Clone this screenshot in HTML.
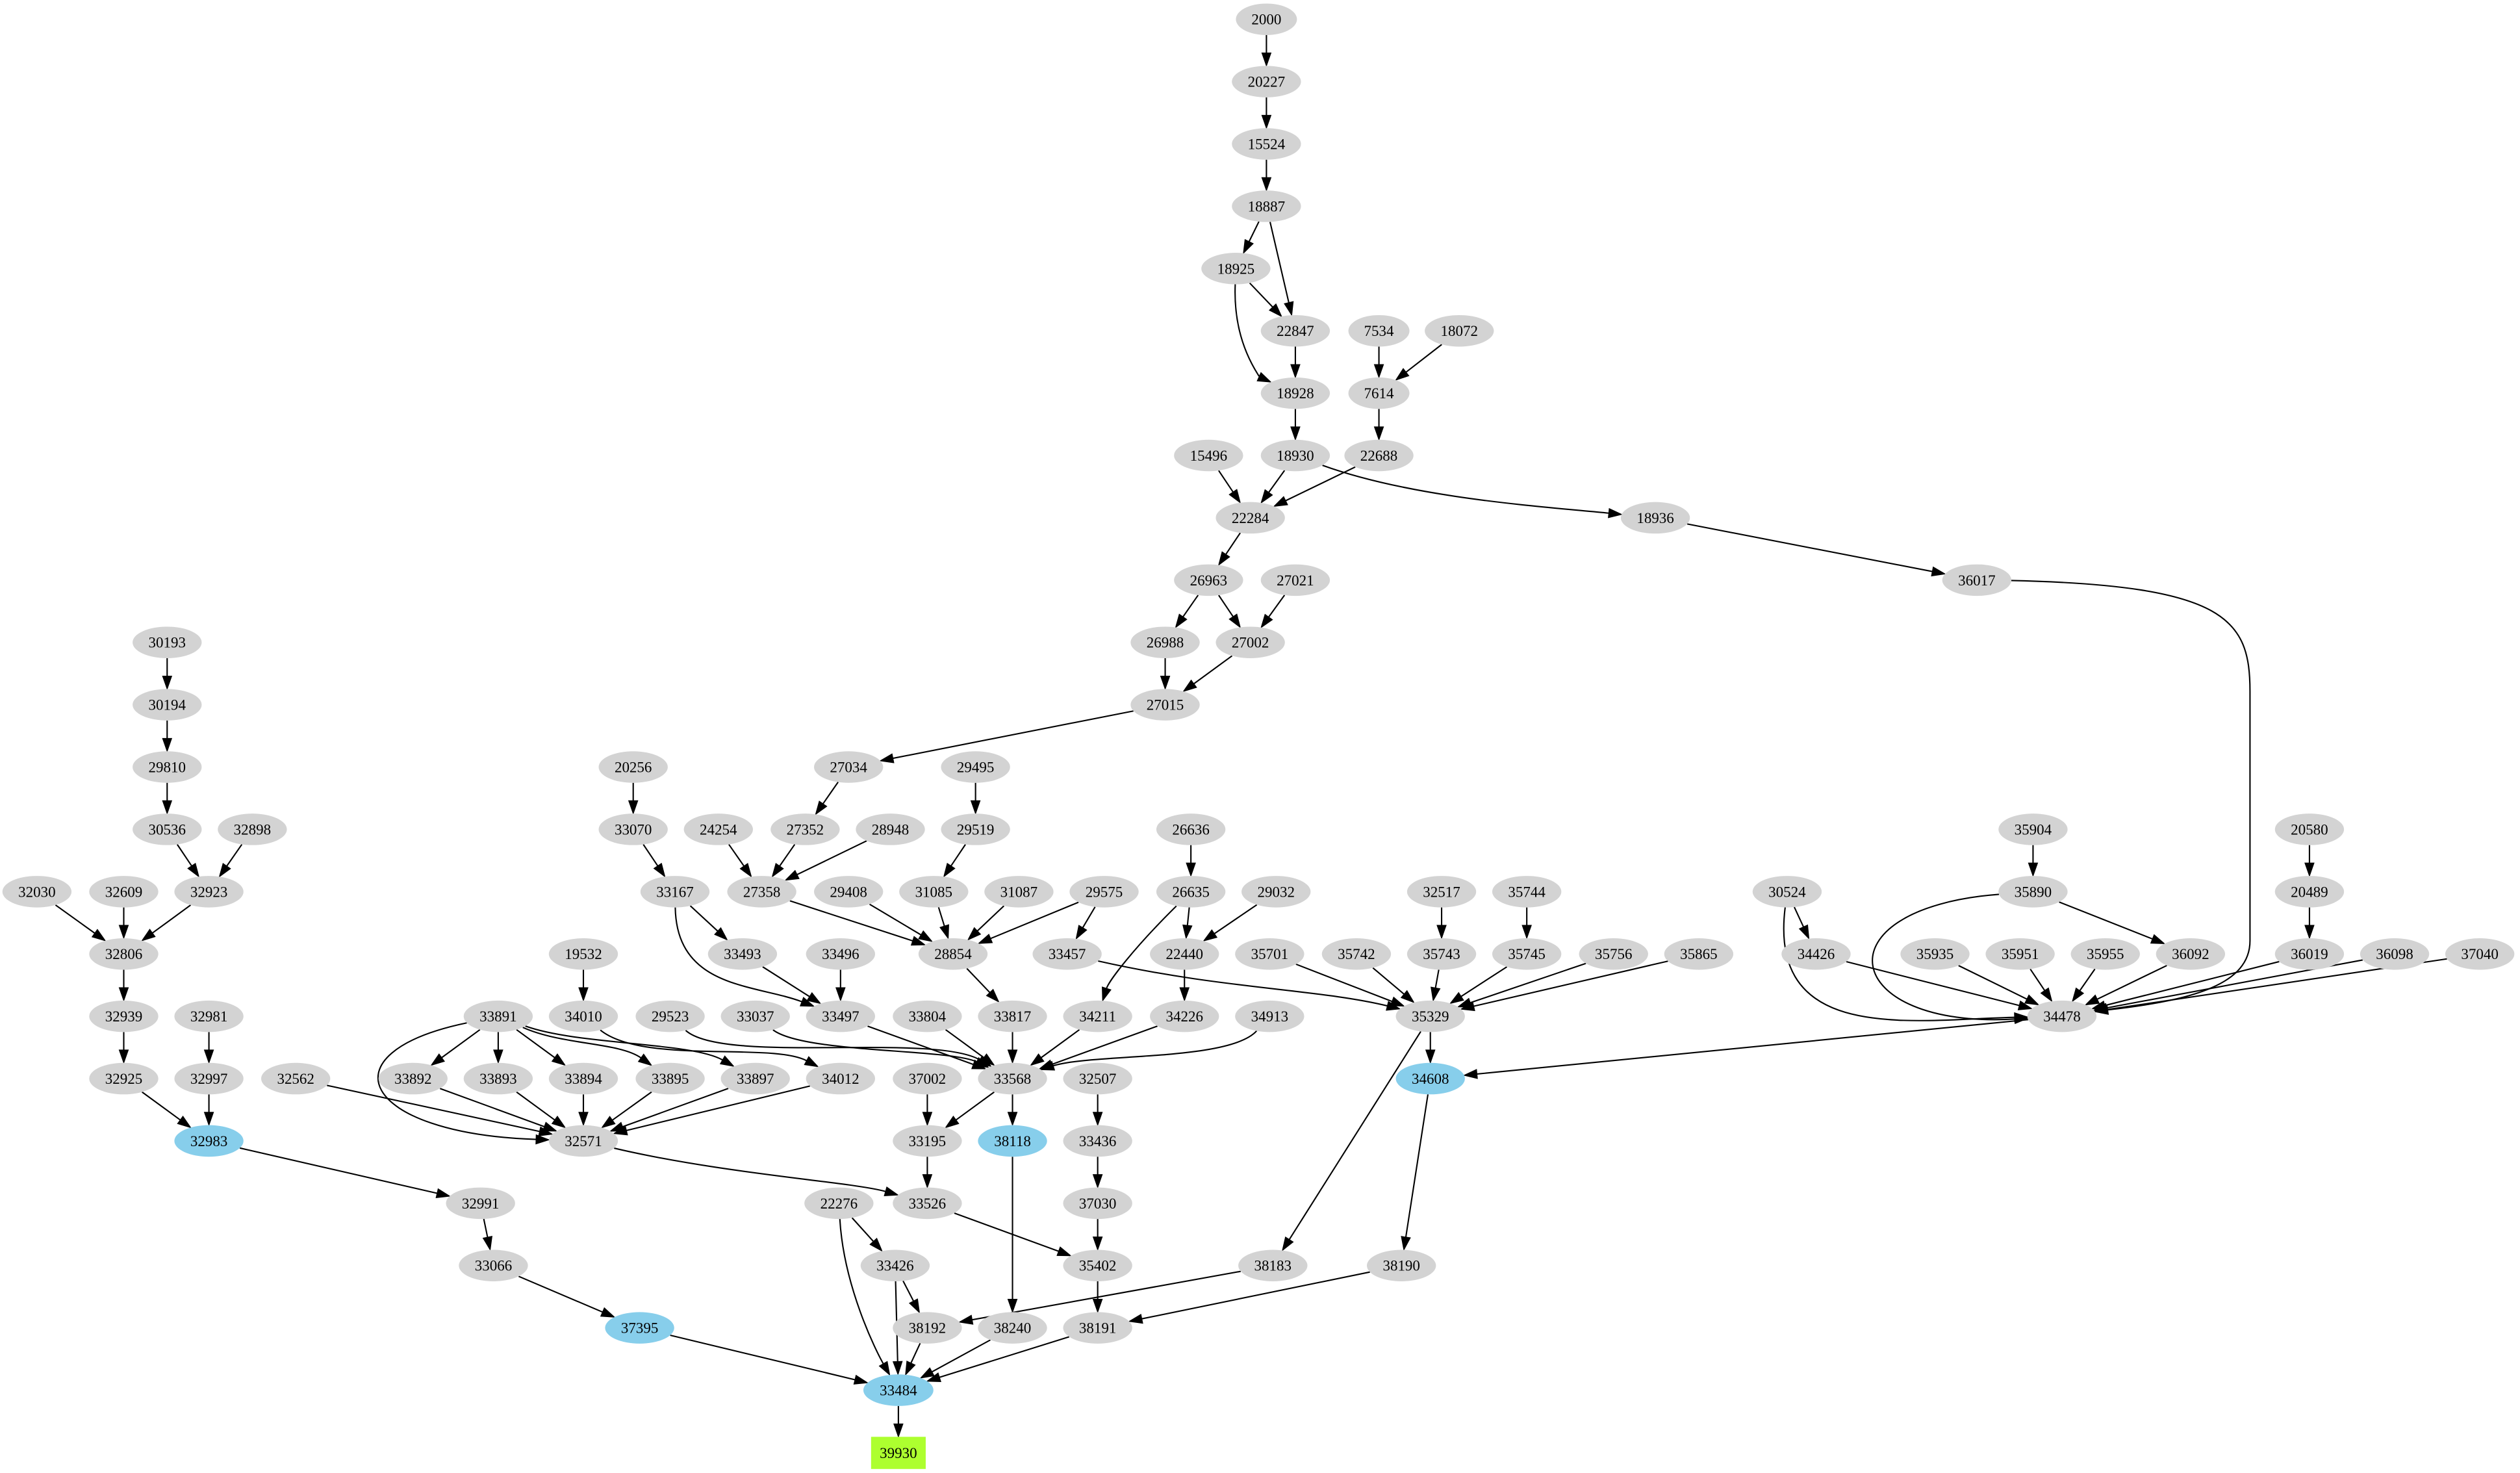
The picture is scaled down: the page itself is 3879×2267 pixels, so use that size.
<!DOCTYPE html>
<html><head><meta charset="utf-8"><style>
html,body{margin:0;padding:0;background:#fff;}
svg{display:block;}
text{font-family:"Liberation Serif",serif;font-size:9.3px;text-anchor:middle;dominant-baseline:central;fill:#000;}
.g ellipse{fill:#d3d3d3;}
.b ellipse{fill:#87ceeb;}
</style></head><body>
<svg id="s" width="3879" height="2267" viewBox="0 0 1568 916" preserveAspectRatio="none" xmlns="http://www.w3.org/2000/svg">
<g id="edges" stroke="#000" stroke-width="0.85" fill="none"></g>
<g id="arrows" fill="#000" stroke="#000" stroke-width="0.5"></g>
<g id="nodes">
<g class="g"><ellipse id="n2000" cx="788" cy="12" rx="19" ry="9.8"/><text x="788" y="12">2000</text></g>
<g class="g"><ellipse id="n20227" cx="788" cy="50.75" rx="21.5" ry="9.8"/><text x="788" y="50.75">20227</text></g>
<g class="g"><ellipse id="n15524" cx="788" cy="89.5" rx="21.5" ry="9.8"/><text x="788" y="89.5">15524</text></g>
<g class="g"><ellipse id="n18887" cx="788" cy="128.25" rx="21.5" ry="9.8"/><text x="788" y="128.25">18887</text></g>
<g class="g"><ellipse id="n18925" cx="769" cy="167" rx="21.5" ry="9.8"/><text x="769" y="167">18925</text></g>
<g class="g"><ellipse id="n22847" cx="806" cy="205.75" rx="21.5" ry="9.8"/><text x="806" y="205.75">22847</text></g>
<g class="g"><ellipse id="n7534" cx="858" cy="205.75" rx="19" ry="9.8"/><text x="858" y="205.75">7534</text></g>
<g class="g"><ellipse id="n18072" cx="908" cy="205.75" rx="21.5" ry="9.8"/><text x="908" y="205.75">18072</text></g>
<g class="g"><ellipse id="n18928" cx="806" cy="244.5" rx="21.5" ry="9.8"/><text x="806" y="244.5">18928</text></g>
<g class="g"><ellipse id="n7614" cx="858" cy="244.5" rx="19" ry="9.8"/><text x="858" y="244.5">7614</text></g>
<g class="g"><ellipse id="n15496" cx="752" cy="283.25" rx="21.5" ry="9.8"/><text x="752" y="283.25">15496</text></g>
<g class="g"><ellipse id="n18930" cx="806" cy="283.25" rx="21.5" ry="9.8"/><text x="806" y="283.25">18930</text></g>
<g class="g"><ellipse id="n22688" cx="858" cy="283.25" rx="21.5" ry="9.8"/><text x="858" y="283.25">22688</text></g>
<g class="g"><ellipse id="n22284" cx="778" cy="322" rx="21.5" ry="9.8"/><text x="778" y="322">22284</text></g>
<g class="g"><ellipse id="n18936" cx="1030" cy="322" rx="21.5" ry="9.8"/><text x="1030" y="322">18936</text></g>
<g class="g"><ellipse id="n26963" cx="752" cy="360.75" rx="21.5" ry="9.8"/><text x="752" y="360.75">26963</text></g>
<g class="g"><ellipse id="n27021" cx="806" cy="360.75" rx="21.5" ry="9.8"/><text x="806" y="360.75">27021</text></g>
<g class="g"><ellipse id="n36017" cx="1230" cy="360.75" rx="21.5" ry="9.8"/><text x="1230" y="360.75">36017</text></g>
<g class="g"><ellipse id="n26988" cx="725" cy="399.5" rx="21.5" ry="9.8"/><text x="725" y="399.5">26988</text></g>
<g class="g"><ellipse id="n27002" cx="778" cy="399.5" rx="21.5" ry="9.8"/><text x="778" y="399.5">27002</text></g>
<g class="g"><ellipse id="n30193" cx="104" cy="399.5" rx="21.5" ry="9.8"/><text x="104" y="399.5">30193</text></g>
<g class="g"><ellipse id="n27015" cx="725" cy="438.25" rx="21.5" ry="9.8"/><text x="725" y="438.25">27015</text></g>
<g class="g"><ellipse id="n30194" cx="104" cy="438.25" rx="21.5" ry="9.8"/><text x="104" y="438.25">30194</text></g>
<g class="g"><ellipse id="n29810" cx="104" cy="477" rx="21.5" ry="9.8"/><text x="104" y="477">29810</text></g>
<g class="g"><ellipse id="n20256" cx="394" cy="477" rx="21.5" ry="9.8"/><text x="394" y="477">20256</text></g>
<g class="g"><ellipse id="n27034" cx="528" cy="477" rx="21.5" ry="9.8"/><text x="528" y="477">27034</text></g>
<g class="g"><ellipse id="n29495" cx="607" cy="477" rx="21.5" ry="9.8"/><text x="607" y="477">29495</text></g>
<g class="g"><ellipse id="n30536" cx="104" cy="515.75" rx="21.5" ry="9.8"/><text x="104" y="515.75">30536</text></g>
<g class="g"><ellipse id="n32898" cx="157" cy="515.75" rx="21.5" ry="9.8"/><text x="157" y="515.75">32898</text></g>
<g class="g"><ellipse id="n33070" cx="394" cy="515.75" rx="21.5" ry="9.8"/><text x="394" y="515.75">33070</text></g>
<g class="g"><ellipse id="n24254" cx="447" cy="515.75" rx="21.5" ry="9.8"/><text x="447" y="515.75">24254</text></g>
<g class="g"><ellipse id="n27352" cx="501" cy="515.75" rx="21.5" ry="9.8"/><text x="501" y="515.75">27352</text></g>
<g class="g"><ellipse id="n28948" cx="554" cy="515.75" rx="21.5" ry="9.8"/><text x="554" y="515.75">28948</text></g>
<g class="g"><ellipse id="n29519" cx="607" cy="515.75" rx="21.5" ry="9.8"/><text x="607" y="515.75">29519</text></g>
<g class="g"><ellipse id="n26636" cx="741" cy="515.75" rx="21.5" ry="9.8"/><text x="741" y="515.75">26636</text></g>
<g class="g"><ellipse id="n35904" cx="1265" cy="515.75" rx="21.5" ry="9.8"/><text x="1265" y="515.75">35904</text></g>
<g class="g"><ellipse id="n20580" cx="1437" cy="515.75" rx="21.5" ry="9.8"/><text x="1437" y="515.75">20580</text></g>
<g class="g"><ellipse id="n32030" cx="23" cy="554.5" rx="21.5" ry="9.8"/><text x="23" y="554.5">32030</text></g>
<g class="g"><ellipse id="n32609" cx="77" cy="554.5" rx="21.5" ry="9.8"/><text x="77" y="554.5">32609</text></g>
<g class="g"><ellipse id="n32923" cx="130" cy="554.5" rx="21.5" ry="9.8"/><text x="130" y="554.5">32923</text></g>
<g class="g"><ellipse id="n33167" cx="420" cy="554.5" rx="21.5" ry="9.8"/><text x="420" y="554.5">33167</text></g>
<g class="g"><ellipse id="n27358" cx="474" cy="554.5" rx="21.5" ry="9.8"/><text x="474" y="554.5">27358</text></g>
<g class="g"><ellipse id="n29408" cx="528" cy="554.5" rx="21.5" ry="9.8"/><text x="528" y="554.5">29408</text></g>
<g class="g"><ellipse id="n31085" cx="581" cy="554.5" rx="21.5" ry="9.8"/><text x="581" y="554.5">31085</text></g>
<g class="g"><ellipse id="n31087" cx="634" cy="554.5" rx="21.5" ry="9.8"/><text x="634" y="554.5">31087</text></g>
<g class="g"><ellipse id="n29575" cx="687" cy="554.5" rx="21.5" ry="9.8"/><text x="687" y="554.5">29575</text></g>
<g class="g"><ellipse id="n26635" cx="741" cy="554.5" rx="21.5" ry="9.8"/><text x="741" y="554.5">26635</text></g>
<g class="g"><ellipse id="n29032" cx="794" cy="554.5" rx="21.5" ry="9.8"/><text x="794" y="554.5">29032</text></g>
<g class="g"><ellipse id="n32517" cx="897" cy="554.5" rx="21.5" ry="9.8"/><text x="897" y="554.5">32517</text></g>
<g class="g"><ellipse id="n35744" cx="950" cy="554.5" rx="21.5" ry="9.8"/><text x="950" y="554.5">35744</text></g>
<g class="g"><ellipse id="n30524" cx="1112" cy="554.5" rx="21.5" ry="9.8"/><text x="1112" y="554.5">30524</text></g>
<g class="g"><ellipse id="n35890" cx="1265" cy="554.5" rx="21.5" ry="9.8"/><text x="1265" y="554.5">35890</text></g>
<g class="g"><ellipse id="n20489" cx="1437" cy="554.5" rx="21.5" ry="9.8"/><text x="1437" y="554.5">20489</text></g>
<g class="g"><ellipse id="n32806" cx="77" cy="593.25" rx="21.5" ry="9.8"/><text x="77" y="593.25">32806</text></g>
<g class="g"><ellipse id="n19532" cx="363" cy="593.25" rx="21.5" ry="9.8"/><text x="363" y="593.25">19532</text></g>
<g class="g"><ellipse id="n33493" cx="462" cy="593.25" rx="21.5" ry="9.8"/><text x="462" y="593.25">33493</text></g>
<g class="g"><ellipse id="n33496" cx="523" cy="593.25" rx="21.5" ry="9.8"/><text x="523" y="593.25">33496</text></g>
<g class="g"><ellipse id="n28854" cx="593" cy="593.25" rx="21.5" ry="9.8"/><text x="593" y="593.25">28854</text></g>
<g class="g"><ellipse id="n33457" cx="664" cy="593.25" rx="21.5" ry="9.8"/><text x="664" y="593.25">33457</text></g>
<g class="g"><ellipse id="n22440" cx="737" cy="593.25" rx="21.5" ry="9.8"/><text x="737" y="593.25">22440</text></g>
<g class="g"><ellipse id="n35701" cx="790" cy="593.25" rx="21.5" ry="9.8"/><text x="790" y="593.25">35701</text></g>
<g class="g"><ellipse id="n35742" cx="844" cy="593.25" rx="21.5" ry="9.8"/><text x="844" y="593.25">35742</text></g>
<g class="g"><ellipse id="n35743" cx="897" cy="593.25" rx="21.5" ry="9.8"/><text x="897" y="593.25">35743</text></g>
<g class="g"><ellipse id="n35745" cx="950" cy="593.25" rx="21.5" ry="9.8"/><text x="950" y="593.25">35745</text></g>
<g class="g"><ellipse id="n35756" cx="1004" cy="593.25" rx="21.5" ry="9.8"/><text x="1004" y="593.25">35756</text></g>
<g class="g"><ellipse id="n35865" cx="1057" cy="593.25" rx="21.5" ry="9.8"/><text x="1057" y="593.25">35865</text></g>
<g class="g"><ellipse id="n34426" cx="1130" cy="593.25" rx="21.5" ry="9.8"/><text x="1130" y="593.25">34426</text></g>
<g class="g"><ellipse id="n35935" cx="1204" cy="593.25" rx="21.5" ry="9.8"/><text x="1204" y="593.25">35935</text></g>
<g class="g"><ellipse id="n35951" cx="1257" cy="593.25" rx="21.5" ry="9.8"/><text x="1257" y="593.25">35951</text></g>
<g class="g"><ellipse id="n35955" cx="1310" cy="593.25" rx="21.5" ry="9.8"/><text x="1310" y="593.25">35955</text></g>
<g class="g"><ellipse id="n36092" cx="1363" cy="593.25" rx="21.5" ry="9.8"/><text x="1363" y="593.25">36092</text></g>
<g class="g"><ellipse id="n36019" cx="1437" cy="593.25" rx="21.5" ry="9.8"/><text x="1437" y="593.25">36019</text></g>
<g class="g"><ellipse id="n36098" cx="1490" cy="593.25" rx="21.5" ry="9.8"/><text x="1490" y="593.25">36098</text></g>
<g class="g"><ellipse id="n37040" cx="1543" cy="593.25" rx="21.5" ry="9.8"/><text x="1543" y="593.25">37040</text></g>
<g class="g"><ellipse id="n32939" cx="77" cy="632" rx="21.5" ry="9.8"/><text x="77" y="632">32939</text></g>
<g class="g"><ellipse id="n32981" cx="130" cy="632" rx="21.5" ry="9.8"/><text x="130" y="632">32981</text></g>
<g class="g"><ellipse id="n33891" cx="310" cy="632" rx="21.5" ry="9.8"/><text x="310" y="632">33891</text></g>
<g class="g"><ellipse id="n34010" cx="363" cy="632" rx="21.5" ry="9.8"/><text x="363" y="632">34010</text></g>
<g class="g"><ellipse id="n29523" cx="417" cy="632" rx="21.5" ry="9.8"/><text x="417" y="632">29523</text></g>
<g class="g"><ellipse id="n33037" cx="470" cy="632" rx="21.5" ry="9.8"/><text x="470" y="632">33037</text></g>
<g class="g"><ellipse id="n33497" cx="523" cy="632" rx="21.5" ry="9.8"/><text x="523" y="632">33497</text></g>
<g class="g"><ellipse id="n33804" cx="577" cy="632" rx="21.5" ry="9.8"/><text x="577" y="632">33804</text></g>
<g class="g"><ellipse id="n33817" cx="630" cy="632" rx="21.5" ry="9.8"/><text x="630" y="632">33817</text></g>
<g class="g"><ellipse id="n34211" cx="683" cy="632" rx="21.5" ry="9.8"/><text x="683" y="632">34211</text></g>
<g class="g"><ellipse id="n34226" cx="737" cy="632" rx="21.5" ry="9.8"/><text x="737" y="632">34226</text></g>
<g class="g"><ellipse id="n34913" cx="790" cy="632" rx="21.5" ry="9.8"/><text x="790" y="632">34913</text></g>
<g class="g"><ellipse id="n35329" cx="890" cy="632" rx="21.5" ry="9.8"/><text x="890" y="632">35329</text></g>
<g class="g"><ellipse id="n34478" cx="1283" cy="632" rx="21.5" ry="9.8"/><text x="1283" y="632">34478</text></g>
<g class="g"><ellipse id="n32925" cx="77" cy="670.75" rx="21.5" ry="9.8"/><text x="77" y="670.75">32925</text></g>
<g class="g"><ellipse id="n32997" cx="130" cy="670.75" rx="21.5" ry="9.8"/><text x="130" y="670.75">32997</text></g>
<g class="g"><ellipse id="n32562" cx="184" cy="670.75" rx="21.5" ry="9.8"/><text x="184" y="670.75">32562</text></g>
<g class="g"><ellipse id="n33892" cx="257" cy="670.75" rx="21.5" ry="9.8"/><text x="257" y="670.75">33892</text></g>
<g class="g"><ellipse id="n33893" cx="310" cy="670.75" rx="21.5" ry="9.8"/><text x="310" y="670.75">33893</text></g>
<g class="g"><ellipse id="n33894" cx="363" cy="670.75" rx="21.5" ry="9.8"/><text x="363" y="670.75">33894</text></g>
<g class="g"><ellipse id="n33895" cx="417" cy="670.75" rx="21.5" ry="9.8"/><text x="417" y="670.75">33895</text></g>
<g class="g"><ellipse id="n33897" cx="470" cy="670.75" rx="21.5" ry="9.8"/><text x="470" y="670.75">33897</text></g>
<g class="g"><ellipse id="n34012" cx="523" cy="670.75" rx="21.5" ry="9.8"/><text x="523" y="670.75">34012</text></g>
<g class="g"><ellipse id="n37002" cx="577" cy="670.75" rx="21.5" ry="9.8"/><text x="577" y="670.75">37002</text></g>
<g class="g"><ellipse id="n33568" cx="630" cy="670.75" rx="21.5" ry="9.8"/><text x="630" y="670.75">33568</text></g>
<g class="g"><ellipse id="n32507" cx="683" cy="670.75" rx="21.5" ry="9.8"/><text x="683" y="670.75">32507</text></g>
<g class="b"><ellipse id="n34608" cx="890" cy="670.75" rx="21.5" ry="9.8"/><text x="890" y="670.75">34608</text></g>
<g class="b"><ellipse id="n32983" cx="130" cy="709.5" rx="21.5" ry="9.8"/><text x="130" y="709.5">32983</text></g>
<g class="g"><ellipse id="n32571" cx="363" cy="709.5" rx="21.5" ry="9.8"/><text x="363" y="709.5">32571</text></g>
<g class="g"><ellipse id="n33195" cx="577" cy="709.5" rx="21.5" ry="9.8"/><text x="577" y="709.5">33195</text></g>
<g class="b"><ellipse id="n38118" cx="630" cy="709.5" rx="21.5" ry="9.8"/><text x="630" y="709.5">38118</text></g>
<g class="g"><ellipse id="n33436" cx="683" cy="709.5" rx="21.5" ry="9.8"/><text x="683" y="709.5">33436</text></g>
<g class="g"><ellipse id="n32991" cx="299" cy="748.25" rx="21.5" ry="9.8"/><text x="299" y="748.25">32991</text></g>
<g class="g"><ellipse id="n22276" cx="522" cy="748.25" rx="21.5" ry="9.8"/><text x="522" y="748.25">22276</text></g>
<g class="g"><ellipse id="n33526" cx="577" cy="748.25" rx="21.5" ry="9.8"/><text x="577" y="748.25">33526</text></g>
<g class="g"><ellipse id="n37030" cx="683" cy="748.25" rx="21.5" ry="9.8"/><text x="683" y="748.25">37030</text></g>
<g class="g"><ellipse id="n33066" cx="307" cy="787" rx="21.5" ry="9.8"/><text x="307" y="787">33066</text></g>
<g class="g"><ellipse id="n33426" cx="557" cy="787" rx="21.5" ry="9.8"/><text x="557" y="787">33426</text></g>
<g class="g"><ellipse id="n35402" cx="683" cy="787" rx="21.5" ry="9.8"/><text x="683" y="787">35402</text></g>
<g class="g"><ellipse id="n38183" cx="792" cy="787" rx="21.5" ry="9.8"/><text x="792" y="787">38183</text></g>
<g class="g"><ellipse id="n38190" cx="872" cy="787" rx="21.5" ry="9.8"/><text x="872" y="787">38190</text></g>
<g class="b"><ellipse id="n37395" cx="398" cy="825.75" rx="21.5" ry="9.8"/><text x="398" y="825.75">37395</text></g>
<g class="g"><ellipse id="n38192" cx="577" cy="825.75" rx="21.5" ry="9.8"/><text x="577" y="825.75">38192</text></g>
<g class="g"><ellipse id="n38240" cx="630" cy="825.75" rx="21.5" ry="9.8"/><text x="630" y="825.75">38240</text></g>
<g class="g"><ellipse id="n38191" cx="683" cy="825.75" rx="21.5" ry="9.8"/><text x="683" y="825.75">38191</text></g>
<g class="b"><ellipse id="n33484" cx="559" cy="864.5" rx="21.8" ry="9.8"/><text x="559" y="864.5">33484</text></g>
<g><rect id="r39930" x="542" y="893.5" width="34" height="20" fill="#adff2f"/><ellipse id="n39930" cx="559" cy="903.5" rx="17" ry="10" fill="none"/><text x="559" y="903.5">39930</text></g>
</g>
</svg>
<script>
(function(){
var E=[
["2000","20227"],["20227","15524"],["15524","18887"],["18887","18925"],["18887","22847"],["18925","22847"],
["18925","18928",[767,215],[785,235]],["22847","18928"],["7534","7614"],["18072","7614"],["18928","18930"],["7614","22688"],
["15496","22284"],["18930","22284"],["22688","22284"],["18930","18936",[880,310],[960,315]],["18936","36017"],
["36017","34478",null,[1340,624],"M1251.5,361 C1385,364 1400,385 1400,430 L1400,585 C1400,612 1365,622 "],
["22284","26963"],["26963","26988"],["26963","27002"],["27021","27002"],["26988","27015"],["27002","27015"],
["27015","27034"],["27034","27352"],["29495","29519"],["20256","33070"],["33070","33167"],
["24254","27358"],["27352","27358"],["28948","27358"],["29519","31085"],
["27358","28854"],["29408","28854"],["31085","28854"],["31087","28854"],["29575","28854"],["29575","33457"],
["26636","26635"],["26635","22440"],["29032","22440"],["26635","34211",[705,590],[690,610]],
["33167","33493"],["33167","33497",[421,615],[470,612]],["33493","33497"],["33496","33497"],
["28854","33817"],["22440","34226"],["33457","35329",[760,615],[820,615]],["19532","34010"],
["30193","30194"],["30194","29810"],["29810","30536"],["30536","32923"],["32898","32923"],
["32030","32806"],["32609","32806"],["32923","32806"],["32806","32939"],["32939","32925"],["32981","32997"],
["32925","32983"],["32997","32983"],["32983","32991"],["32991","33066"],["33066","37395"],["37395","33484"],
["33891","33892"],["33891","33893"],["33891","33894"],["33891","33895",[350,650],[385,648]],["33891","33897",[360,650],[430,648]],
["33891","32571",[200,655],[225,705]],["34010","34012",[400,662],[480,648]],["29523","33568",[450,662],[580,642]],
["33037","33568",[500,655],[590,652]],["33497","33568"],["33804","33568"],["33817","33568"],["34211","33568"],["34226","33568"],
["34913","33568",[765,660],[680,655]],
["32562","32571"],["33892","32571"],["33893","32571"],["33894","32571"],["33895","32571"],["33897","32571"],["34012","32571"],
["37002","33195"],["33568","33195"],["33568","38118"],["32507","33436"],["33436","37030"],["33195","33526"],
["32571","33526",[450,730],[530,735]],["33526","35402"],["37030","35402"],["22276","33426"],["22276","33484",[525,800],[545,840]],
["35402","38191"],["33426","38192"],["33426","33484"],["38183","38192"],["38118","38240"],["35329","38183"],["34608","38190"],
["38190","38191"],["38192","33484"],["38240","33484"],["38191","33484"],["33484","39930"],
["32517","35743"],["35744","35745"],["35701","35329"],["35742","35329"],["35743","35329"],["35745","35329"],["35756","35329"],["35865","35329"],
["35329","34608"],["34478","34608"],["35904","35890"],["20580","20489"],["20489","36019"],["30524","34426"],
["30524","34478",[1100,650],[1190,634]],["35890","34478",[1130,565],[1145,640]],["35890","36092"],["34426","34478"],
["35935","34478"],["35951","34478"],["35955","34478"],["36092","34478"],["36019","34478"],["36098","34478"],["37040","34478"]
];
function N(id){var e=document.getElementById('n'+id);return{x:+e.getAttribute('cx'),y:+e.getAttribute('cy'),rx:+e.getAttribute('rx'),ry:+e.getAttribute('ry'),rect:id=="39930"};}
function clip(n,dx,dy){var l=Math.hypot(dx,dy);dx/=l;dy/=l;var t;
 if(n.rect){t=Math.min(Math.abs(dx)>1e-6?17/Math.abs(dx):1e9,Math.abs(dy)>1e-6?10/Math.abs(dy):1e9);}
 else t=1/Math.sqrt((dx/n.rx)*(dx/n.rx)+(dy/n.ry)*(dy/n.ry));
 return [n.x+dx*t,n.y+dy*t,dx,dy];}
var eg=document.getElementById('edges'),ag=document.getElementById('arrows'),NS="http://www.w3.org/2000/svg";
var AL=8,AW=2.8;
E.forEach(function(e){var a=N(e[0]),b=N(e[1]);var c1=e[2],c2=e[3],pre=e[4];
 var s,t;
 if(c2){t=clip(b,c2[0]-b.x,c2[1]-b.y);} else {t=clip(b,a.x-b.x,a.y-b.y);}
 if(c1){s=clip(a,c1[0]-a.x,c1[1]-a.y);} else {s=clip(a,b.x-a.x,b.y-a.y);}
 var tip=[t[0],t[1]],ux=t[2],uy=t[3];
 var L=[tip[0]+ux*AL,tip[1]+uy*AL];
 var d;
 if(pre){d=pre+L[0]+","+L[1];}
 else if(c1){d="M"+s[0]+","+s[1]+" C"+c1[0]+","+c1[1]+" "+c2[0]+","+c2[1]+" "+L[0]+","+L[1];}
 else d="M"+s[0]+","+s[1]+" L"+L[0]+","+L[1];
 var p=document.createElementNS(NS,'path');p.setAttribute('d',d);eg.appendChild(p);
 var px=-uy,py=ux;
 var q=document.createElementNS(NS,'polygon');
 q.setAttribute('points',tip[0]+","+tip[1]+" "+(L[0]+px*AW)+","+(L[1]+py*AW)+" "+(L[0]-px*AW)+","+(L[1]-py*AW));
 ag.appendChild(q);
});
})();
</script>
</body></html>
